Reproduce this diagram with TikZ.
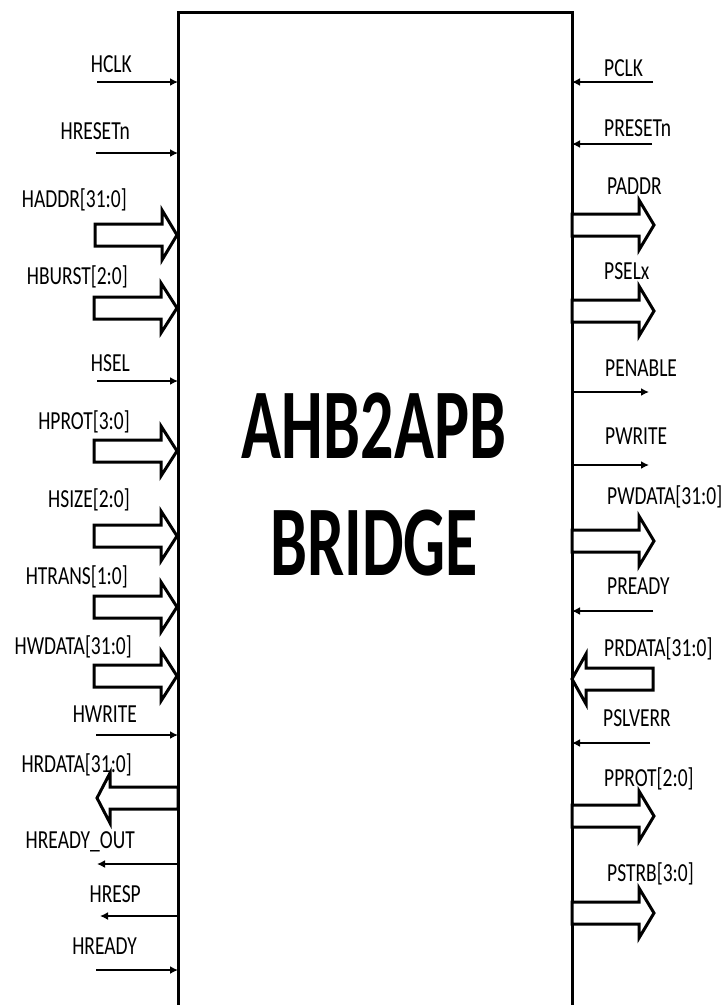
\documentclass[tikz,border=0pt]{standalone}
\usepackage{fontspec}
\usetikzlibrary{arrows.meta}
\newfontfamily\labfont[FakeStretch=0.75]{Carlito}
\newfontfamily\ttlfont[FakeStretch=0.66]{Carlito}
\newcommand\blockarr[5]{% name, x0, xh, xt, yc
  \draw[busarrow] (#2,#5-11) -- (#3,#5-11) -- (#3,#5-25) -- (#4,#5) -- (#3,#5+25) -- (#3,#5+11) -- (#2,#5+11) -- cycle;
  \coordinate (#1) at (#4,#5);}
\tikzset{
  sig/.style={line width=1.8pt,-{Latex[length=8pt,width=8pt]}},
  busarrow/.style={line width=3pt,fill=white,line join=miter},
  lab/.style={font=\labfont\fontsize{26}{30}\selectfont,inner sep=0pt},
  labL/.style={lab,anchor=base east},
  labR/.style={lab,anchor=base west},
}
\begin{document}
\begin{tikzpicture}[x=1pt,y=-1pt]
\useasboundingbox (0,0) rectangle (726,1005);
\begin{scope}
\clip (0,0) rectangle (726,1005);
\draw[line width=3pt,line join=miter] (178,1020) -- (178,12) -- (572,12) -- (572,1020);
\end{scope}
\coordinate (boxL) at (178,0);
\coordinate (boxR) at (572,0);
\node[font=\ttlfont\bfseries\fontsize{100}{110}\selectfont,inner sep=0pt,anchor=base] (t1) at (374,458) {AHB2APB};
\node[font=\ttlfont\bfseries\fontsize{100}{110}\selectfont,inner sep=0pt,anchor=base] (t2) at (374,575) {BRIDGE};
% left side thin signals
\foreach \nm/\y/\x in {hclk/82/97, hresetn/153/96, hsel/381/97, hwrite/735/96, hready/970/96}{
  \coordinate (\nm-s) at (\x,\y);
  \draw[sig] (\nm-s) -- (\nm-s -| boxL);
}
\foreach \nm/\y/\x in {hreadyout/864/97, hresp/916/100}{
  \coordinate (\nm-e) at (\x,\y);
  \draw[sig] (\nm-e -| boxL) -- (\nm-e);
}
% left block inputs
\blockarr{haddr}{95}{162}{177}{235}
\blockarr{hburst}{94}{161}{177}{308}
\blockarr{hprot}{94}{161}{177}{451}
\blockarr{hsize}{94}{161}{177}{536}
\blockarr{htrans}{94}{161}{177}{607}
\blockarr{hwdata}{94}{161}{177}{676}
\blockarr{hrdata}{178}{110}{97}{798}
% right thin signals
\foreach \nm/\y/\x in {pclk/82/653, presetn/144/652, pready/611/653, pslverr/743/650}{
  \coordinate (\nm-s) at (\x,\y);
  \draw[sig] (\nm-s) -- (\nm-s -| boxR);
}
\foreach \nm/\y/\x in {penable/392/649, pwrite/465/649}{
  \coordinate (\nm-e) at (\x,\y);
  \draw[sig] (\nm-e -| boxR) -- (\nm-e);
}
% right block arrows
\blockarr{paddr}{572}{639}{654}{225}
\blockarr{psel}{572}{639}{654}{311}
\blockarr{pwdata}{572}{639}{654}{541}
\blockarr{prdata}{653}{586}{572}{679}
\blockarr{pprot}{572}{639}{654}{816}
\blockarr{pstrb}{572}{639}{654}{913}
% left labels
\node[labL] (l1) at (132,72) {HCLK};
\node[labL] (l2) at (130,139) {HRESETn};
\node[labL] (l3) at (127,207) {HADDR[31:0]};
\node[labL] (l4) at (128,284) {HBURST[2:0]};
\node[labL] (l5) at (130,371) {HSEL};
\node[labL] (l6) at (130,429) {HPROT[3:0]};
\node[labL] (l7) at (130,507) {HSIZE[2:0]};
\node[labL] (l8) at (128,584) {HTRANS[1:0]};
\node[labL] (l9) at (132,654) {HWDATA[31:0]};
\node[labL] (l10) at (137,722) {HWRITE};
\node[labL] (l11) at (132,772) {HRDATA[31:0]};
\node[labL] (l12) at (135,848) {HREADY\_OUT};
\node[labL] (l13) at (141,902) {HRESP};
\node[labL] (l14) at (137,954) {HREADY};
% right labels
\node[labR] (r1) at (604,76) {PCLK};
\node[labR] (r2) at (604,136) {PRESETn};
\node[labR] (r3) at (607,194) {PADDR};
\node[labR] (r4) at (604,279) {PSELx};
\node[labR] (r5) at (605,376) {PENABLE};
\node[labR] (r6) at (605,444) {PWRITE};
\node[labR] (r7) at (607,504) {PWDATA[31:0]};
\node[labR] (r8) at (607,594) {PREADY};
\node[labR] (r9) at (604,656) {PRDATA[31:0]};
\node[labR] (r10) at (603,726) {PSLVERR};
\node[labR] (r11) at (604,786) {PPROT[2:0]};
\node[labR] (r12) at (607,881) {PSTRB[3:0]};
\end{tikzpicture}
\end{document}
